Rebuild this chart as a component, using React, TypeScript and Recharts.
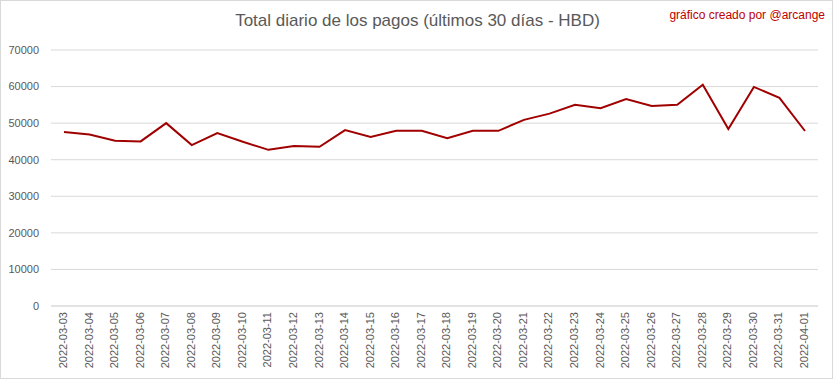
import { LineChart, Line, XAxis, YAxis, CartesianGrid } from 'recharts'

const dates = [
  '2022-03-03', '2022-03-04', '2022-03-05', '2022-03-06', '2022-03-07', '2022-03-08',
  '2022-03-09', '2022-03-10', '2022-03-11', '2022-03-12', '2022-03-13', '2022-03-14',
  '2022-03-15', '2022-03-16', '2022-03-17', '2022-03-18', '2022-03-19', '2022-03-20',
  '2022-03-21', '2022-03-22', '2022-03-23', '2022-03-24', '2022-03-25', '2022-03-26',
  '2022-03-27', '2022-03-28', '2022-03-29', '2022-03-30', '2022-03-31', '2022-04-01',
]

const totals = [
  47600, 46900, 45200, 45000, 50000, 44000,
  47300, 44900, 42700, 43750, 43550, 48100,
  46200, 47900, 47900, 45900, 47900, 47900,
  50900, 52600, 55000, 54100, 56600, 54700,
  55000, 60500, 48400, 59900, 56900, 47850,
]

const yTicks = [0, 10000, 20000, 30000, 40000, 50000, 60000, 70000]

const title = 'Total diario de los pagos (últimos 30 días - HBD)'
const credit = 'gráfico creado por @arcange'

const FONT = '"Liberation Sans", Arial, sans-serif'

function DateTick({ x, y, payload }: any) {
  return (
    <text
      x={x - 1}
      y={y}
      transform={`rotate(-90 ${x - 1} ${y})`}
      textAnchor="end"
      dominantBaseline="central"
      fontSize={11}
      fontFamily={FONT}
      fill="#595959"
    >
      {payload.value}
    </text>
  )
}

export default function App() {
  const data = dates.map((d, i) => ({ date: d, total: totals[i] }))

  return (
    <div
      style={{
        position: 'absolute', top: 0, left: 0, width: 831, height: 377,
        border: '1px solid #d9d9d9', background: '#fff', fontFamily: FONT,
      }}
    >
      <div style={{ position: 'absolute', top: 10, left: 0, width: 833, textAlign: 'center', fontSize: 17, color: '#595959' }}>
        {title}
      </div>
      <div style={{ position: 'absolute', top: 7, right: 7, fontSize: 12, color: '#c00000' }}>
        {credit}
      </div>
      <div style={{ position: 'absolute', top: -1, left: -1 }}>
        <LineChart width={833} height={379} data={data} margin={{ top: 50, right: 15, left: 0, bottom: 6 }}>
          <CartesianGrid vertical={false} stroke="#d9d9d9" />
          <XAxis
            dataKey="date"
            interval={0}
            height={67}
            tick={<DateTick />}
            tickLine={false}
            tickSize={0}
            tickMargin={6}
            axisLine={{ stroke: '#d9d9d9' }}
            padding={{ left: 13, right: 13 }}
          />
          <YAxis
            width={51}
            domain={[0, 70000]}
            ticks={yTicks}
            tickLine={false}
            axisLine={false}
            tickMargin={6}
            tick={{ fontSize: 11, fill: '#595959', fontFamily: FONT }}
          />
          <Line
            type="linear"
            dataKey="total"
            stroke="#a00000"
            strokeWidth={2}
            dot={false}
            isAnimationActive={false}
          />
        </LineChart>
      </div>
    </div>
  )
}
